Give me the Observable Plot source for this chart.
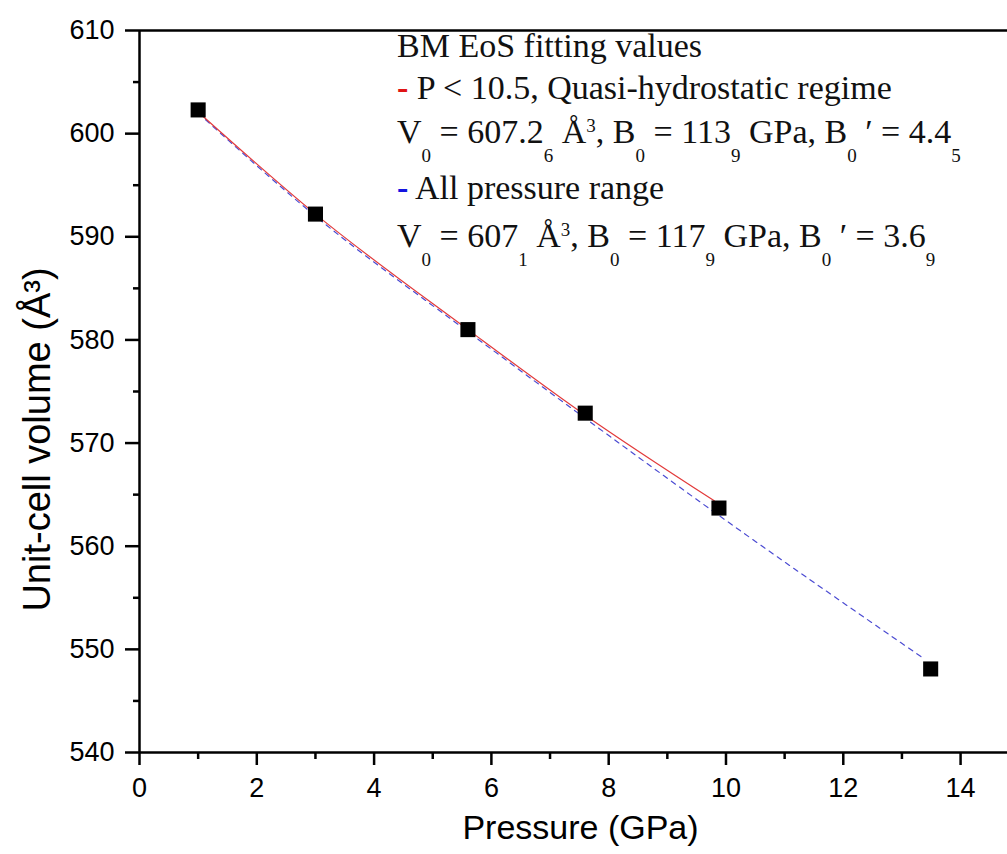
<!DOCTYPE html>
<html><head><meta charset="utf-8">
<script src="https://cdn.jsdelivr.net/npm/d3@7"></script>
<script src="https://cdn.jsdelivr.net/npm/@observablehq/plot@0.6"></script>
<style>body{margin:0;background:#fff}</style>
</head><body><div id="chart"></div>
<script>
// Measured data (pressure in GPa, unit-cell volume in Å^3)
const pressure = [1.0, 3.0, 5.6, 7.6, 9.88, 13.49];
const volume = [602.3, 592.2, 581.0, 572.9, 563.7, 548.1];
// BM EoS fit, P < 10.5 (red, solid)
const fitLowP = [1.0, 3.0, 5.6, 7.6, 9.8];
const fitLowV = [602.1, 592.2, 581.0, 572.7, 564.4];
// BM EoS fit, all pressure range (blue, dashed)
const fitAllP = [1.0, 3.0, 5.6, 7.6, 9.9, 13.35];
const fitAllV = [602.0, 592.0, 580.8, 572.4, 562.9, 549.2];
// Ticks
const xTicks = [0, 2, 4, 6, 8, 10, 12, 14];
const xMinor = [1, 3, 5, 7, 9, 11, 13];
const yTicks = [540, 550, 560, 570, 580, 590, 600, 610];
const yMinor = [545, 555, 565, 575, 585, 595, 605];
// Titles
const xTitle = "Pressure (GPa)";
const yTitle = "Unit-cell volume (Å³)";
// Legend text (segments: text, kind)
const legendLines = [
  [["BM EoS fitting values", "n"]],
  [["-", "red"], [" P < 10.5, Quasi-hydrostatic regime", "n"]],
  [["V", "n"], ["0", "sub"], [" = 607.2", "n"], ["6", "sub"], [" Å", "n"], ["3", "sup"], [", B", "n"], ["0", "sub"], [" = 113", "n"], ["9", "sub"], [" GPa, B", "n"], ["0", "sub"], [" ′ = 4.4", "n"], ["5", "sub"]],
  [["-", "blue"], [" All pressure range", "n"]],
  [["V", "n"], ["0", "sub"], [" = 607", "n"], ["1", "sub"], [" Å", "n"], ["3", "sup"], [", B", "n"], ["0", "sub"], [" = 117", "n"], ["9", "sub"], [" GPa, B", "n"], ["0", "sub"], [" ′ = 3.6", "n"], ["9", "sub"]]
];

const pts = pressure.map((p, i) => ({p, v: volume[i]}));
const red = fitLowP.map((p, i) => ({p, v: fitLowV[i]}));
const blue = fitAllP.map((p, i) => ({p, v: fitAllV[i]}));

const plot = Plot.plot({
  width: 1007, height: 854,
  marginTop: 30, marginBottom: 102, marginLeft: 139, marginRight: 0,
  x: {domain: [0, 14.8]},
  y: {domain: [540, 610]},
  style: {fontFamily: "'Liberation Sans', Arial, sans-serif", fontSize: "27px", background: "#fff", color: "#000", overflow: "visible"},
  marks: [
    Plot.line(blue, {x: "p", y: "v", stroke: "#4b4bd2", strokeWidth: 1.2, strokeDasharray: "5,5", curve: "monotone-x"}),
    Plot.line(red, {x: "p", y: "v", stroke: "#e23a3a", strokeWidth: 1.2, curve: "monotone-x"}),
    Plot.dot(pts, {x: "p", y: "v", symbol: "square", r: 8.5, fill: "#000", stroke: null}),
    Plot.ruleX([0], {stroke: "#000", strokeWidth: 2.5}),
    Plot.ruleY([540], {stroke: "#000", strokeWidth: 2.5}),
    Plot.ruleY([610], {stroke: "#000", strokeWidth: 2.5}),
    Plot.axisX(xTicks, {tickSize: 13, tickPadding: 12, strokeWidth: 2.5, label: null, fontSize: 27}),
    Plot.axisX(xMinor, {tickSize: 7, tickFormat: () => "", strokeWidth: 2.5, label: null}),
    Plot.axisY(yTicks, {tickSize: 14, tickPadding: 11, strokeWidth: 2.5, label: null, fontSize: 27}),
    Plot.axisY(yMinor, {tickSize: 6, tickFormat: () => "", strokeWidth: 2.5, label: null}),
    Plot.text([xTitle], {text: d => d, frameAnchor: "bottom", dx: 7, dy: 86, fontSize: 34, textAnchor: "middle"}),
    Plot.text([yTitle], {text: d => d, frameAnchor: "left", dx: -102, dy: 48, rotate: -90, fontSize: 38, textAnchor: "middle"})
  ]
});
document.getElementById("chart").appendChild(plot);

// Legend text block
const baselines = [57, 99, 143, 199, 247];
const g = d3.select(plot).append("g")
  .attr("font-family", "'Liberation Serif', 'Times New Roman', serif")
  .attr("font-size", 34)
  .attr("text-anchor", "start")
  .attr("fill", "#111");
legendLines.forEach((segs, li) => {
  const t = g.append("text").attr("x", 397).attr("y", baselines[li]).attr("text-anchor", "start");
  let shift = 0;
  segs.forEach(([txt, kind]) => {
    const target = kind === "sub" ? 19 : kind === "sup" ? -11 : 0;
    const ts = t.append("tspan").text(txt).attr("dy", target - shift);
    shift = target;
    if (kind === "sub" || kind === "sup") ts.attr("font-size", 19);
    if (kind === "red") ts.attr("fill", "#e01414").attr("font-weight", "bold");
    if (kind === "blue") ts.attr("fill", "#1414e0").attr("font-weight", "bold");
  });
  t.style("white-space", "pre");
});
</script>
</body></html>
